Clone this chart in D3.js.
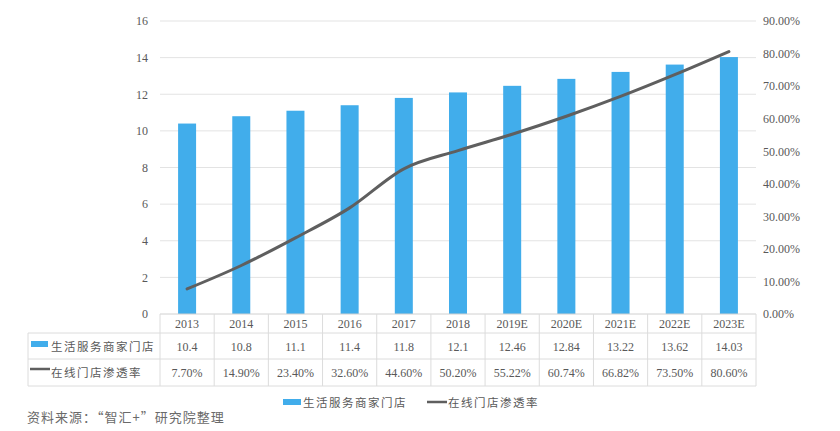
<!DOCTYPE html>
<html><head><meta charset="utf-8">
<script src="https://cdn.jsdelivr.net/npm/d3@7"></script>
<style>body{margin:0;background:#fff;} svg{display:block;}</style>
</head><body>
<svg id="c" width="840" height="431"></svg>
<script>
const categories = ["2013","2014","2015","2016","2017","2018","2019E","2020E","2021E","2022E","2023E"];
const stores = [10.4,10.8,11.1,11.4,11.8,12.1,12.46,12.84,13.22,13.62,14.03];
const storeLabels = ["10.4","10.8","11.1","11.4","11.8","12.1","12.46","12.84","13.22","13.62","14.03"];
const penetration = [7.70,14.90,23.40,32.60,44.60,50.20,55.22,60.74,66.82,73.50,80.60];
const penLabels = ["7.70%","14.90%","23.40%","32.60%","44.60%","50.20%","55.22%","60.74%","66.82%","73.50%","80.60%"];
const leftTicks = [0,2,4,6,8,10,12,14,16];
const rightTicks = [0,10,20,30,40,50,60,70,80,90];
const seriesNames = ["生活服务商家门店","在线门店渗透率"];
const sourceText = "资料来源：“智汇+”研究院整理";

const svg = d3.select("#c");
const x0 = 160, x1 = 756, yTop = 21, yBot = 314;
const serif = "'Liberation Serif','DejaVu Serif',serif";
const cjk = "'Noto Sans CJK SC',sans-serif";
const textCol = "#595959";
const barCol = "#41ADEB";
const lineCol = "#5f5f5f";
const gridCol = "#e3e3e3";

const x = d3.scaleBand().domain(categories).range([x0, x1]).paddingInner(0).paddingOuter(0);
const yL = d3.scaleLinear().domain([0,16]).range([yBot, yTop]);
const yR = d3.scaleLinear().domain([0,90]).range([yBot, yTop]);

// gridlines
svg.append("g").selectAll("line").data(leftTicks.slice(1)).join("line")
  .attr("x1", x0).attr("x2", x1).attr("y1", d=>yL(d)).attr("y2", d=>yL(d))
  .attr("stroke", gridCol).attr("stroke-width",1);

// left axis
const la = svg.append("g").attr("transform",`translate(${x0},0)`)
  .call(d3.axisLeft(yL).tickValues(leftTicks).tickSize(0).tickPadding(12).tickFormat(d3.format("d")));
la.select(".domain").remove();
la.selectAll("text").attr("font-family", serif).attr("font-size", 12).attr("fill", textCol);

// right axis
const ra = svg.append("g").attr("transform",`translate(${x1},0)`)
  .call(d3.axisRight(yR).tickValues(rightTicks).tickSize(0).tickPadding(7).tickFormat(d=>d.toFixed(2)+"%"));
ra.select(".domain").remove();
ra.selectAll("text").attr("font-family", serif).attr("font-size", 12).attr("fill", textCol);

// bars
const bw = 18;
svg.append("g").selectAll("rect").data(stores).join("rect")
  .attr("x", (d,i)=>x(categories[i]) + x.bandwidth()/2 - bw/2)
  .attr("width", bw)
  .attr("y", d=>yL(d)).attr("height", d=>yBot - yL(d))
  .attr("fill", barCol);

// line
const line = d3.line()
  .x((d,i)=>x(categories[i]) + x.bandwidth()/2)
  .y(d=>yR(d))
  .curve(d3.curveMonotoneX);
svg.append("path").datum(penetration).attr("d", line)
  .attr("fill","none").attr("stroke", lineCol).attr("stroke-width", 3).attr("stroke-linecap","round");

// data table
const tbl = svg.append("g");
const tableLeft = 28, r0 = 314, r1 = 333, r2 = 359, r3 = 386;
const bc = "#dcdcdc";
// horizontal lines
tbl.append("line").attr("x1", x0).attr("x2", x1).attr("y1", r0).attr("y2", r0).attr("stroke", "#d0d0d0");
[r1, r2, r3].forEach(yy=>{
  tbl.append("line").attr("x1", tableLeft).attr("x2", x1).attr("y1", yy).attr("y2", yy).attr("stroke", bc);
});
// vertical lines
const vx = categories.map(c=>x(c)).concat([x1]);
vx.forEach(xx=>{
  tbl.append("line").attr("x1", xx).attr("x2", xx).attr("y1", r0).attr("y2", r3).attr("stroke", bc);
});
tbl.append("line").attr("x1", tableLeft).attr("x2", tableLeft).attr("y1", r1).attr("y2", r3).attr("stroke", bc);

// category labels
tbl.selectAll("text.cat").data(categories).join("text").attr("class","cat")
  .attr("x", d=>x(d)+x.bandwidth()/2).attr("y", 328).attr("text-anchor","middle")
  .attr("font-family", serif).attr("font-size", 12).attr("fill", textCol).text(d=>d);
tbl.selectAll("text.v1").data(storeLabels).join("text").attr("class","v1")
  .attr("x", (d,i)=>x(categories[i])+x.bandwidth()/2).attr("y", 351).attr("text-anchor","middle")
  .attr("font-family", serif).attr("font-size", 12).attr("fill", textCol).text(d=>d);
tbl.selectAll("text.v2").data(penLabels).join("text").attr("class","v2")
  .attr("x", (d,i)=>x(categories[i])+x.bandwidth()/2).attr("y", 377).attr("text-anchor","middle")
  .attr("font-family", serif).attr("font-size", 12).attr("fill", textCol).text(d=>d);

// row headers
tbl.append("rect").attr("x", 31).attr("y", 341).attr("width", 17).attr("height", 6).attr("fill", barCol);
tbl.append("text").attr("x", 51).attr("y", 351).attr("font-family", cjk).attr("font-size", 11.5)
  .attr("fill", textCol).attr("letter-spacing", 1.5).text(seriesNames[0]);
tbl.append("line").attr("x1", 30).attr("x2", 50).attr("y1", 369).attr("y2", 369).attr("stroke", lineCol).attr("stroke-width", 2.5);
tbl.append("text").attr("x", 51).attr("y", 377).attr("font-family", cjk).attr("font-size", 11.5)
  .attr("fill", textCol).attr("letter-spacing", 1.5).text(seriesNames[1]);

// legend
const lg = svg.append("g");
lg.append("rect").attr("x", 283).attr("y", 399).attr("width", 18).attr("height", 6).attr("fill", barCol);
lg.append("text").attr("x", 303).attr("y", 407).attr("font-family", cjk).attr("font-size", 11.5)
  .attr("fill", textCol).attr("letter-spacing", 1.5).text(seriesNames[0]);
lg.append("line").attr("x1", 427).attr("x2", 447).attr("y1", 402).attr("y2", 402).attr("stroke", lineCol).attr("stroke-width", 2.5);
lg.append("text").attr("x", 448).attr("y", 407).attr("font-family", cjk).attr("font-size", 11.5)
  .attr("fill", textCol).attr("letter-spacing", 1.5).text(seriesNames[1]);

// source
svg.append("text").attr("x", 27).attr("y", 422).attr("font-family", cjk).attr("font-size", 13)
  .attr("fill", "#6a6a6a").attr("letter-spacing", 1).text(sourceText);
</script>
</body></html>
